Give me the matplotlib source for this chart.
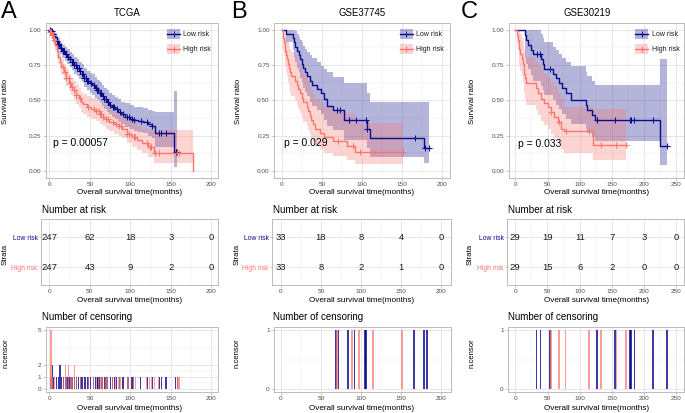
import numpy as np
import matplotlib
matplotlib.use('Agg')
import matplotlib.pyplot as plt
from matplotlib.patches import Rectangle
from matplotlib.lines import Line2D

plt.rcParams['font.family'] = ['Liberation Sans', 'DejaVu Sans']

W, H = 685, 413
LOW_C = '#0A0A8C'
HIGH_C = '#F8766D'

# ---------------- TCGA ----------------
tcga_low_t = [0, 2, 5, 7, 9, 11, 13, 16, 19, 22, 25, 28, 31, 34, 37, 40, 43, 46, 50, 53,
              56, 59, 62, 65, 68, 71, 74, 77, 81, 85, 89, 94, 99, 104, 110, 116, 122, 127, 131, 154]
tcga_low_s = [1.0, .99, .97, .95, .92, .90, .87, .85, .83, .81, .79, .77, .75, .73, .71, .69, .66, .64, .62, .61,
              .59, .57, .55, .53, .51, .49, .47, .455, .44, .42, .40, .385, .37, .36, .355, .35, .33, .32, .27, .135]
tcga_low_lo = [1.0, .975, .95, .92, .885, .86, .83, .80, .78, .76, .735, .715, .69, .67, .65, .63, .595, .575, .555, .54,
               .52, .50, .48, .46, .44, .42, .40, .385, .37, .35, .33, .31, .295, .285, .275, .27, .25, .235, .17, .03]
tcga_low_up = [1.0, 1.0, .99, .98, .955, .94, .915, .895, .88, .865, .845, .83, .81, .79, .775, .755, .73, .71, .695, .685,
               .665, .645, .63, .61, .59, .575, .555, .54, .525, .51, .49, .48, .465, .455, .45, .445, .43, .425, .42, .565]
tcga_low_end = 158
tcga_high_t = [0, 1, 3, 5, 7, 9, 11, 13, 15, 18, 21, 24, 27, 30, 33, 36, 39, 42, 46, 51,
               57, 62, 66, 70, 74, 80, 86, 90, 96, 102, 108, 115, 122, 129, 177]
tcga_high_s = [1.0, .985, .96, .925, .89, .85, .805, .77, .735, .70, .66, .625, .595, .57, .54, .515, .49, .475, .455, .44,
               .425, .40, .385, .365, .35, .33, .315, .30, .265, .24, .22, .195, .17, .13, 0.0]
tcga_high_lo = [1.0, .97, .935, .89, .85, .805, .755, .72, .68, .645, .60, .565, .535, .505, .475, .45, .42, .405, .385, .37,
                .355, .33, .315, .295, .28, .26, .245, .23, .195, .17, .15, .125, .10, .055, 0.0]
tcga_high_up = [1.0, 1.0, .985, .96, .93, .895, .855, .825, .79, .76, .72, .69, .66, .635, .61, .585, .56, .545, .53, .515,
                .50, .48, .465, .45, .435, .415, .40, .39, .36, .335, .32, .30, .29, .29, 0.0]
tcga_high_end = 177
tcga_low_ct = [1, 2, 3.7, 5, 9, 11, 12.5, 14, 15, 17, 18, 20, 21, 23, 25, 26, 28, 29, 31, 33,
               34, 36, 38, 40, 41, 43, 45, 47, 48, 51, 55, 57, 59, 60, 62, 64, 66, 68, 70, 72,
               75, 78, 80, 83, 87, 91, 96, 98, 102, 104, 113, 121, 127, 136, 138, 144, 156, 158]
tcga_low_cn = [1, 1, 2, 1, 1, 1, 2, 2, 1, 1, 1, 1, 1, 1, 1, 1, 1, 1, 1, 1,
               1, 1, 1, 1, 1, 1, 1, 1, 1, 1, 1, 1, 1, 1, 1, 1, 1, 1, 1, 1,
               1, 1, 1, 1, 1, 1, 1, 1, 1, 1, 1, 1, 1, 1, 1, 1, 1, 1]
tcga_high_ct = [1, 2, 3, 4, 6, 17, 19.5, 21, 23.7, 26, 28, 30.7, 33, 38, 48, 55, 58, 61, 63, 64,
                66, 70, 72, 78, 82, 86, 88, 96, 98, 104, 106, 120, 124, 126, 130, 135, 158, 160]
tcga_high_cn = [2, 5, 1, 1, 1, 1, 2, 1, 2, 1, 1, 2, 1, 1, 1, 1, 1, 1, 1, 1,
                1, 1, 1, 1, 1, 1, 1, 1, 1, 1, 1, 1, 1, 1, 1, 1, 1, 1]
tcga_risk_x = [0, 50, 100, 150, 200]
tcga_risk_low = [247, 62, 18, 3, 0]
tcga_risk_high = [247, 43, 9, 2, 0]

# ---------------- GSE37745 ----------------
g37_low_t = [0, 5, 14, 15, 17, 19, 21, 23, 25, 27, 29, 32, 35, 38, 44, 49, 53, 56, 64, 77, 106, 110, 177]
g37_low_s = [1.0, .97, .94, .91, .88, .85, .82, .79, .76, .73, .70, .67, .64, .61, .58, .55, .51, .46, .43, .36, .30, .235, .16]
g37_low_lo = [1.0, .91, .86, .81, .77, .73, .70, .66, .63, .59, .56, .53, .49, .46, .43, .40, .36, .32, .29, .22, .16, .10, .055]
g37_low_up = [1.0, 1.0, 1.0, 1.0, .99, .97, .95, .93, .91, .885, .865, .845, .82, .80, .77, .74, .72, .70, .665, .62, .55, .49, .49]
g37_low_end = 183
g37_high_t = [0, 1.5, 2, 3, 4, 4.5, 5.4, 6, 7.5, 8.5, 10.4, 12, 16.6, 18.7, 20, 22.8, 25, 27, 31, 33,
              35, 37, 39.4, 41, 47.7, 52, 64, 81, 91]
g37_high_s = [1.0, .97, .94, .91, .88, .85, .82, .79, .76, .73, .70, .67, .64, .61, .58, .55, .52, .49, .455, .425,
              .39, .36, .33, .30, .27, .24, .21, .18, .135]
g37_high_lo = [1.0, .91, .86, .82, .78, .74, .70, .67, .63, .60, .56, .53, .50, .47, .44, .41, .38, .35, .315, .29,
               .26, .23, .205, .18, .155, .13, .105, .08, .05]
g37_high_up = [1.0, 1.0, 1.0, 1.0, .99, .97, .95, .93, .91, .89, .865, .84, .82, .795, .77, .745, .72, .69, .66, .635,
               .60, .57, .54, .51, .48, .45, .42, .40, .34]
g37_high_end = 151
g37_low_ct = [69, 72, 84, 92, 105, 106, 166, 179, 183]
g37_low_cn = [1, 1, 1, 1, 1, 1, 1, 1, 1]
g37_high_ct = [70, 89, 98, 115, 151]
g37_high_cn = [1, 1, 1, 1, 1]
g37_risk_x = [0, 50, 100, 150, 200]
g37_risk_low = [33, 18, 8, 4, 0]
g37_risk_high = [33, 8, 2, 1, 0]

# ---------------- GSE30219 ----------------
g30_low_t = [0, 15, 17, 20, 25, 28, 40, 43, 45, 58, 63, 68, 73, 78, 86, 109, 111, 119, 124, 224]
g30_low_s = [1.0, .965, .93, .895, .86, .83, .79, .76, .725, .69, .655, .62, .585, .55, .505, .47, .43, .395, .36, .18]
g30_low_lo = [1.0, .80, .76, .72, .68, .64, .60, .57, .54, .50, .47, .44, .40, .37, .33, .30, .27, .24, .21, .045]
g30_low_up = [1.0, 1.0, 1.0, 1.0, 1.0, 1.0, .97, .945, .91, .88, .855, .83, .80, .77, .74, .70, .67, .64, .61, .795]
g30_low_end = 236
g30_high_t = [0, 2, 3.5, 5, 6, 8, 10, 12, 13, 14, 15, 16, 32.5, 35, 40, 45, 50, 55, 60, 66, 70.6, 76, 121]
g30_high_s = [1.0, .965, .93, .90, .865, .83, .795, .76, .725, .69, .655, .62, .585, .55, .51, .48, .45, .415, .38, .345, .30, .28, .185]
g30_high_lo = [1.0, .90, .84, .80, .75, .71, .67, .63, .59, .55, .51, .47, .43, .395, .355, .325, .295, .26, .23, .195, .155, .125, .075]
g30_high_up = [1.0, 1.0, 1.0, 1.0, .99, .97, .945, .92, .895, .865, .84, .81, .78, .75, .72, .69, .66, .63, .60, .56, .51, .455, .44]
g30_high_end = 172
g30_low_ct = [33, 39, 54, 127, 155, 178, 180, 185, 214, 236]
g30_low_cn = [1, 1, 1, 1, 1, 1, 1, 1, 1, 1]
g30_high_ct = [55, 68, 78, 114, 133, 157, 172]
g30_high_cn = [1, 1, 1, 1, 1, 1, 1]
g30_risk_x = [0, 50, 100, 150, 200, 250]
g30_risk_low = [29, 19, 11, 7, 3, 0]
g30_risk_high = [29, 15, 6, 2, 0, 0]

strata = ['Low risk', 'High risk']

fig = plt.figure(figsize=(W / 100, H / 100), dpi=100)


def axes_px(l, t, r, b):
    return fig.add_axes([l / W, 1 - b / H, (r - l) / W, (b - t) / H])


def ftext(x, y, s, **kw):
    fig.text(x / W, 1 - y / H, s, **kw)


def style(ax):
    for sp in ax.spines.values():
        sp.set_color('#B3B3B3')
        sp.set_linewidth(0.6)
    ax.set_axisbelow(True)
    ax.grid(True, which='major', color='#E0E0E0', lw=0.55)
    ax.grid(True, which='minor', color='#EEEEEE', lw=0.35)
    ax.tick_params(which='major', length=2, width=0.5, color='#B3B3B3',
                   labelsize=4.6, labelcolor='#4D4D4D', pad=1.2)
    ax.tick_params(which='minor', length=0)


def km_panel(ax, curves, xlim, xmaj, xmin, pval, pxy):
    style(ax)
    for t, s, lo, up, tend, ct, col in curves:
        te = np.r_[t, tend]
        ax.fill_between(te, np.r_[lo, lo[-1]], np.r_[up, up[-1]], step='post',
                        color=col, alpha=0.3, lw=0)
    for t, s, lo, up, tend, ct, col in curves:
        te = np.r_[t, tend]
        sa = np.asarray(s)
        ax.step(te, np.r_[sa, sa[-1]], where='post', color=col, lw=1.0)
        idx = np.searchsorted(np.asarray(t), np.asarray(ct), side='right') - 1
        ax.plot(ct, sa[idx], ls='none', marker='+', ms=3.8, mew=0.75, color=col)
    ax.set_xlim(*xlim)
    ax.set_ylim(-0.05, 1.05)
    ax.set_xticks(xmaj)
    ax.set_xticks(xmin, minor=True)
    ax.set_yticks([0, .25, .5, .75, 1.0])
    ax.set_yticklabels(['0.00', '0.25', '0.50', '0.75', '1.00'])
    ax.set_yticks([.125, .375, .625, .875], minor=True)
    ax.text(pxy[0], pxy[1], pval, fontsize=7.5, va='center', ha='left', color='black')


def risk_panel(ax, xs, low, high, xlim, xmaj, xmin):
    style(ax)
    ax.set_xlim(*xlim)
    ax.set_ylim(0.4, 2.6)
    ax.set_xticks(xmaj)
    ax.set_xticks(xmin, minor=True)
    ax.set_yticks([2, 1])
    ax.set_yticklabels(strata)
    ax.tick_params(axis='y', labelsize=4.9, length=1.5)
    for lab, col in zip(ax.get_yticklabels(), [LOW_C, HIGH_C]):
        lab.set_color(col)
    for x, n in zip(xs, low):
        ax.text(x, 2, str(n), ha='center', va='center', fontsize=6.8, color='#1A1A1A')
    for x, n in zip(xs, high):
        ax.text(x, 1, str(n), ha='center', va='center', fontsize=6.8, color='#1A1A1A')


def cens_panel(ax, groups, width, xlim, xmaj, xmin, ymaj, ymin, ylim):
    style(ax)
    for ct, cn, col, a in groups:
        ax.bar(ct, cn, width=width, color=col, alpha=a, lw=0)
    ax.set_xlim(*xlim)
    ax.set_ylim(*ylim)
    ax.set_xticks(xmaj)
    ax.set_xticks(xmin, minor=True)
    ax.set_yticks(ymaj)
    ax.set_yticks(ymin, minor=True)


def legend(kl, tx):
    for i, (lab, col) in enumerate(zip(strata, [LOW_C, HIGH_C])):
        yc = 34.3 + 15 * i
        fig.add_artist(Rectangle((kl / W, 1 - (yc + 5) / H), 13 / W, 10 / H,
                                 transform=fig.transFigure, facecolor=col, alpha=0.3, lw=0))
        fig.add_artist(Line2D([kl / W, (kl + 13) / W], [1 - yc / H] * 2, color=col, lw=1.0))
        fig.add_artist(Line2D([(kl + 6.5) / W], [1 - yc / H], marker='+', ms=3.8, mew=0.75,
                              color=col, ls='none'))
        ftext(tx, yc, lab, va='center', ha='left', fontsize=5.0, color='#1A1A1A')


XLAB = 'Overall survival time(months)'
panels = [
    dict(letter='A', lx=1, title='TCGA', tx=127,
         main=(45.7, 218.3), mxl=(-4.5, 208.6), risk=(41.3, 218.3), rxl=(-9.9, 208.6),
         cens=(45.7, 218.3), cxl=(-4.5, 208.6),
         xmaj=[0, 50, 100, 150, 200], xmin=[25, 75, 125, 175],
         low=(tcga_low_t, tcga_low_s, tcga_low_lo, tcga_low_up, tcga_low_end, tcga_low_ct, tcga_low_cn),
         high=(tcga_high_t, tcga_high_s, tcga_high_lo, tcga_high_up, tcga_high_end, tcga_high_ct, tcga_high_cn),
         rx=tcga_risk_x, rl=tcga_risk_low, rh=tcga_risk_high,
         p='p = 0.00057', pxy=(5, 0.195), key=(167, 182.7), width=1.4,
         ymaj=[0, 1, 2, 5], ymin=[0.5, 1.5, 3.5], ylim=(-0.25, 5.25),
         ylab_x=5.5, rylab_x=5.5, cylab_x=6, xc=130),
    dict(letter='B', lx=231, title='GSE37745', tx=362.5,
         main=(274.3, 450), mxl=(-9.3, 209.6), risk=(272.3, 451), rxl=(-10.9, 212.6),
         cens=(274.3, 450.7), cxl=(-8.2, 212.3),
         xmaj=[0, 50, 100, 150, 200], xmin=[25, 75, 125, 175],
         low=(g37_low_t, g37_low_s, g37_low_lo, g37_low_up, g37_low_end, g37_low_ct, g37_low_cn),
         high=(g37_high_t, g37_high_s, g37_high_lo, g37_high_up, g37_high_end, g37_high_ct, g37_high_cn),
         rx=g37_risk_x, rl=g37_risk_low, rh=g37_risk_high,
         p='p = 0.029', pxy=(3.3, 0.195), key=(400, 416), width=2.2,
         ymaj=[0, 1], ymin=[0.5], ylim=(-0.05, 1.05),
         ylab_x=238, rylab_x=237, cylab_x=237.3, xc=362),
    dict(letter='C', lx=461, title='GSE30219', tx=587.5,
         main=(509, 684), mxl=(-9.8, 261.9), risk=(507.3, 684.3), rxl=(-12.4, 262.4),
         cens=(508.3, 684), cxl=(-10.9, 261.9),
         xmaj=[0, 50, 100, 150, 200, 250], xmin=[25, 75, 125, 175, 225],
         low=(g30_low_t, g30_low_s, g30_low_lo, g30_low_up, g30_low_end, g30_low_ct, g30_low_cn),
         high=(g30_high_t, g30_high_s, g30_high_lo, g30_high_up, g30_high_end, g30_high_ct, g30_high_cn),
         rx=g30_risk_x, rl=g30_risk_low, rh=g30_risk_high,
         p='p = 0.033', pxy=(4.7, 0.19), key=(635, 651.7), width=2.8,
         ymaj=[0, 1], ymin=[0.5], ylim=(-0.05, 1.05),
         ylab_x=472, rylab_x=470, cylab_x=471.7, xc=597),
]

for P in panels:
    # main KM plot
    ax = axes_px(P['main'][0], 22.7, P['main'][1], 178)
    lt, ls_, llo, lup, lend, lct, lcn = P['low']
    ht, hs, hlo, hup, hend, hct, hcn = P['high']
    km_panel(ax, [(lt, ls_, llo, lup, lend, lct, LOW_C), (ht, hs, hlo, hup, hend, hct, HIGH_C)],
             P['mxl'], P['xmaj'], P['xmin'], P['p'], P['pxy'])
    legend(*P['key'])
    ftext(P['lx'], 18.3, P['letter'], fontsize=17, ha='left', va='baseline')
    ftext(P['tx'], 12.7, P['title'], fontsize=6.9, ha='center', va='center')
    ftext(P['xc'], 192.7, XLAB, fontsize=5.9, ha='center', va='center')
    ftext(P['ylab_x'], 101.7, 'Survival ratio', fontsize=5.6, ha='center', va='center', rotation=90)

    # risk table
    ax2 = axes_px(P['risk'][0], 219, P['risk'][1], 285)
    risk_panel(ax2, P['rx'], P['rl'], P['rh'], P['rxl'], P['xmaj'], P['xmin'])
    ftext(P['risk'][0] + 0.4, 210, 'Number at risk', fontsize=7.1, ha='left', va='center')
    ftext(P['xc'], 301, XLAB, fontsize=5.9, ha='center', va='center')
    ftext(P['rylab_x'], 254.3, 'Strata', fontsize=5.6, ha='center', va='center', rotation=90)

    # censoring plot
    ax3 = axes_px(P['cens'][0], 327, P['cens'][1], 392)
    cens_panel(ax3, [(lct, lcn, LOW_C, 0.8), (hct, hcn, HIGH_C, 0.7)], P['width'],
               P['cxl'], P['xmaj'], P['xmin'], P['ymaj'], P['ymin'], P['ylim'])
    ftext(P['risk'][0] + 0.4, 316.7, 'Number of censoring', fontsize=7.0, ha='left', va='center')
    ftext(P['xc'], 408, XLAB, fontsize=5.9, ha='center', va='center')
    ftext(P['cylab_x'], 353, 'n.censor', fontsize=5.6, ha='center', va='center', rotation=90)

fig.savefig('out.png', dpi=100)
